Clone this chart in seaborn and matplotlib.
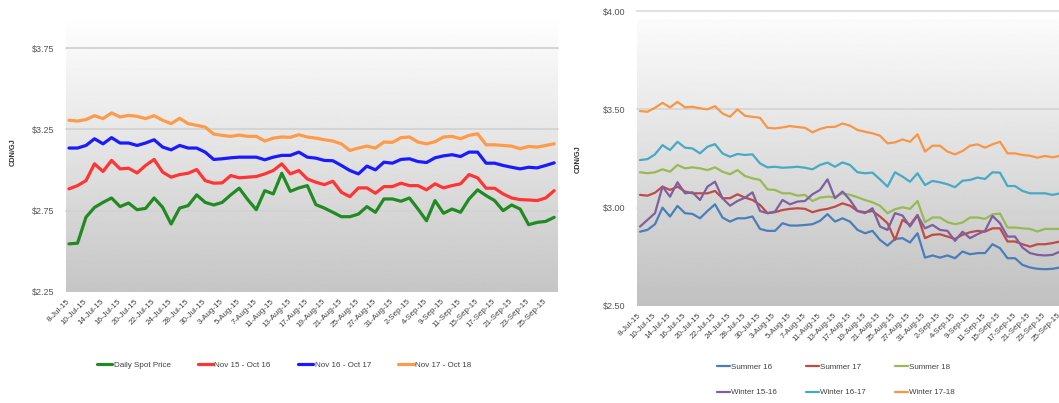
import numpy as np
import pandas as pd
import matplotlib
matplotlib.use("Agg")
import matplotlib.pyplot as plt
from matplotlib.lines import Line2D
import seaborn as sns

# ---------------- data ----------------
dates = [
    "8-Jul-15", "9-Jul-15", "10-Jul-15", "13-Jul-15", "14-Jul-15", "15-Jul-15", "16-Jul-15",
    "17-Jul-15", "20-Jul-15", "21-Jul-15", "22-Jul-15", "23-Jul-15", "24-Jul-15", "27-Jul-15",
    "28-Jul-15", "29-Jul-15", "30-Jul-15", "31-Jul-15", "3-Aug-15", "4-Aug-15", "5-Aug-15",
    "6-Aug-15", "7-Aug-15", "10-Aug-15", "11-Aug-15", "12-Aug-15", "13-Aug-15", "14-Aug-15",
    "17-Aug-15", "18-Aug-15", "19-Aug-15", "20-Aug-15", "21-Aug-15", "24-Aug-15", "25-Aug-15",
    "26-Aug-15", "27-Aug-15", "28-Aug-15", "31-Aug-15", "1-Sep-15", "2-Sep-15", "3-Sep-15",
    "4-Sep-15", "8-Sep-15", "9-Sep-15", "10-Sep-15", "11-Sep-15", "14-Sep-15", "15-Sep-15",
    "16-Sep-15", "17-Sep-15", "18-Sep-15", "21-Sep-15", "22-Sep-15", "23-Sep-15", "24-Sep-15",
    "25-Sep-15", "28-Sep-15",
]

# left chart
daily_spot = [2.546, 2.55, 2.71, 2.77, 2.801, 2.828, 2.775, 2.797, 2.756, 2.764, 2.828, 2.771,
              2.668, 2.766, 2.781, 2.847, 2.801, 2.785, 2.801, 2.847, 2.888, 2.818, 2.756, 2.873,
              2.853, 2.98, 2.869, 2.89, 2.904,
              2.787, 2.766, 2.74, 2.713, 2.713, 2.729, 2.775, 2.74, 2.822, 2.822, 2.808, 2.828,
              2.76, 2.688, 2.812, 2.734, 2.76, 2.74, 2.822, 2.878, 2.843, 2.812, 2.75, 2.785,
              2.76, 2.664, 2.678, 2.684, 2.709]
nov15_oct16 = [2.884, 2.904, 2.935, 3.038, 2.991, 3.059, 3.007, 3.011, 2.982, 3.028, 3.065, 2.987,
               2.956, 2.972, 2.98, 3.003, 2.935, 2.919, 2.921, 2.966, 2.952, 2.956, 2.96, 2.976,
               2.997, 3.038, 2.976, 2.997, 2.945,
               2.925, 2.91, 2.931, 2.863, 2.836, 2.89, 2.89, 2.857, 2.898, 2.898, 2.919, 2.904,
               2.904, 2.878, 2.915, 2.89, 2.904, 2.915, 2.972, 2.952, 2.888, 2.888, 2.853, 2.828,
               2.818, 2.816, 2.812, 2.828, 2.873]
nov16_oct17 = [3.135, 3.135, 3.151, 3.192, 3.161, 3.199, 3.166, 3.166, 3.151, 3.166, 3.186, 3.141,
               3.124, 3.151, 3.135, 3.135, 3.11, 3.065, 3.069, 3.075, 3.079, 3.079, 3.079, 3.063,
               3.079, 3.09, 3.09, 3.11, 3.079,
               3.073, 3.059, 3.057, 3.028, 2.997, 2.976, 3.024, 3.001, 3.048, 3.042, 3.065, 3.069,
               3.052, 3.046, 3.075, 3.087, 3.094, 3.083, 3.11, 3.11, 3.042, 3.042, 3.028, 3.017,
               3.007, 3.017, 3.013, 3.028, 3.044]
nov17_oct18 = [3.306, 3.301, 3.31, 3.334, 3.316, 3.351, 3.326, 3.336, 3.33, 3.316, 3.334, 3.306,
               3.285, 3.318, 3.285, 3.275, 3.264, 3.221, 3.213, 3.207, 3.215, 3.207, 3.207, 3.178,
               3.196, 3.203, 3.201, 3.217, 3.203,
               3.196, 3.186, 3.178, 3.161, 3.12, 3.135, 3.147, 3.135, 3.172, 3.17, 3.199, 3.203,
               3.172, 3.161, 3.174, 3.203, 3.207, 3.192, 3.213, 3.223, 3.155, 3.155, 3.151, 3.147,
               3.131, 3.145, 3.141, 3.151, 3.161]

# right chart
summer_16 = [2.878, 2.887, 2.916, 3.0, 2.955, 3.009, 2.972, 2.968, 2.946, 2.983, 3.017, 2.95,
             2.929, 2.946, 2.946, 2.955, 2.892, 2.882, 2.882, 2.921, 2.909, 2.909, 2.912, 2.916,
             2.933, 2.967, 2.929, 2.946,
             2.929, 2.887, 2.87, 2.882, 2.836, 2.807, 2.841, 2.845, 2.823, 2.87, 2.746, 2.757,
             2.746, 2.757, 2.743, 2.777, 2.763, 2.769, 2.769, 2.814, 2.794, 2.743, 2.743, 2.709,
             2.696, 2.689, 2.687, 2.689, 2.696, 2.70]
summer_17 = [3.065, 3.061, 3.076, 3.107, 3.09, 3.107, 3.082, 3.073, 3.073, 3.073, 3.085, 3.048,
             3.048, 3.068, 3.051, 3.039, 3.014, 2.972, 2.977, 2.988, 2.994, 2.997, 2.994, 2.977,
             2.988, 2.994, 3.005, 3.022,
             3.01, 2.983, 2.977, 2.983, 2.955, 2.921, 2.836, 2.938, 2.912, 2.963, 2.845, 2.862,
             2.865, 2.853, 2.841, 2.862, 2.875, 2.882, 2.878, 2.895, 2.895, 2.828, 2.828, 2.814,
             2.802, 2.814, 2.814, 2.82, 2.828, 2.83]
summer_18 = [3.18, 3.175, 3.18, 3.195, 3.183, 3.217, 3.2, 3.205, 3.2, 3.191, 3.205, 3.183,
             3.17, 3.191, 3.161, 3.149, 3.141, 3.093, 3.09, 3.073, 3.073, 3.061, 3.065, 3.034,
             3.051, 3.056, 3.053, 3.073,
             3.065, 3.053, 3.039, 3.027, 3.01, 2.972, 2.992, 3.002, 2.994, 3.034, 2.926, 2.95,
             2.95, 2.926, 2.916, 2.924, 2.95, 2.95, 2.943, 2.966, 2.97, 2.899, 2.899, 2.895,
             2.892, 2.879, 2.892, 2.892, 2.892, 2.89]
winter_15_16 = [2.904, 2.938, 2.972, 3.107, 3.056, 3.129, 3.073, 3.078, 3.039, 3.107, 3.132, 3.048,
                3.01, 3.034, 3.051, 3.078, 2.983, 2.972, 2.98, 3.039, 3.017, 3.031, 3.034, 3.068,
                3.09, 3.144, 3.048, 3.082,
                3.039, 2.983, 2.972, 2.997, 2.904, 2.887, 2.972, 2.96, 2.904, 2.96, 2.895, 2.912,
                2.887, 2.882, 2.831, 2.878, 2.845, 2.865, 2.882, 2.958, 2.921, 2.853, 2.853, 2.797,
                2.769, 2.76, 2.757, 2.76, 2.777, 2.78]
winter_16_17 = [3.242, 3.247, 3.271, 3.318, 3.293, 3.335, 3.305, 3.301, 3.276, 3.31, 3.323, 3.276,
                3.259, 3.273, 3.268, 3.271, 3.225, 3.205, 3.208, 3.203, 3.205, 3.208, 3.203, 3.195,
                3.217, 3.229, 3.208, 3.23,
                3.217, 3.18, 3.175, 3.178, 3.144, 3.107, 3.18, 3.158, 3.132, 3.175, 3.115, 3.136,
                3.129, 3.119, 3.104, 3.137, 3.141, 3.153, 3.146, 3.18, 3.178, 3.11, 3.11, 3.085,
                3.073, 3.073, 3.073, 3.065, 3.073, 3.075]
winter_17_18 = [3.491, 3.488, 3.508, 3.533, 3.51, 3.538, 3.51, 3.513, 3.505, 3.5, 3.516, 3.479,
                3.462, 3.5, 3.467, 3.462, 3.457, 3.406, 3.403, 3.408, 3.415, 3.41, 3.406, 3.383,
                3.4, 3.41, 3.411, 3.428,
                3.417, 3.395, 3.386, 3.378, 3.366, 3.327, 3.332, 3.347, 3.335, 3.373, 3.285, 3.315,
                3.315, 3.285, 3.271, 3.288, 3.315, 3.322, 3.305, 3.322, 3.335, 3.276, 3.276, 3.268,
                3.264, 3.254, 3.263, 3.256, 3.264, 3.27]

left_names = ["Daily Spot Price", "Nov 15 - Oct 16", "Nov 16 - Oct 17", "Nov 17 - Oct 18"]
left_series = [daily_spot, nov15_oct16, nov16_oct17, nov17_oct18]
left_colors = ["#228a22", "#ff3434", "#1a1aff", "#ff9a48"]

right_names = ["Summer 16", "Summer 17", "Summer 18", "Winter 15-16", "Winter 16-17", "Winter 17-18"]
right_series = [summer_16, summer_17, summer_18, winter_15_16, winter_16_17, winter_17_18]
right_colors = ["#4a7ebb", "#be4b48", "#98b954", "#7d60a0", "#46aac5", "#f79646"]

left_yticks = [2.25, 2.75, 3.25, 3.75]
right_yticks = [2.50, 3.00, 3.50, 4.00]


def long_frame(names, series):
    parts = []
    for n, s in zip(names, series):
        parts.append(pd.DataFrame({"x": np.arange(len(dates)), "v": s, "series": n}))
    return pd.concat(parts, ignore_index=True)


# ---------------- style ----------------
sns.set_style("white")
plt.rcParams["font.family"] = ["Liberation Sans", "DejaVu Sans"]

W, H = 1059, 403
fig = plt.figure(figsize=(W / 100, H / 100), dpi=100)
fig.patch.set_facecolor("white")


def px_axes(x0, x1, y_top, y_bot):
    return fig.add_axes([x0 / W, (H - y_bot) / H, (x1 - x0) / W, (y_bot - y_top) / H])


def gradient(ax, top=0.995, bottom=0.77, frac_top=1.0):
    g = np.linspace(top, bottom, 256).reshape(-1, 1)
    ax.imshow(g, extent=[0, 1, 0, frac_top], transform=ax.transAxes, aspect="auto",
              cmap="gray", vmin=0, vmax=1, zorder=0, interpolation="bilinear")


def style_axes(ax, yticks, xlim, ylim, grid_color="#d2d2d2"):
    ax.set_xlim(*xlim)
    ax.set_ylim(*ylim)
    for s in ax.spines.values():
        s.set_visible(False)
    for yv in yticks[1:]:
        ax.axhline(yv, color=grid_color, lw=1.3, zorder=1, clip_on=False)
    ax.set_yticks(yticks)
    ax.set_yticklabels([f"${v:.2f}" for v in yticks])
    tick_pos = list(range(0, len(dates) - 1, 2))
    ax.set_xticks(tick_pos)
    ax.set_xticklabels([dates[i] for i in tick_pos], rotation=45, ha="right",
                       va="center", rotation_mode="anchor")
    ax.tick_params(axis="y", length=0, pad=8, labelsize=6.5, labelcolor="#555555")
    ax.tick_params(axis="x", length=0, pad=6, labelsize=5.8, labelcolor="#404040")
    ax.set_xlabel("")
    ax.set_ylabel("")


# ---------------- left chart ----------------
axL = px_axes(66, 558, 20, 292)
gradient(axL, top=0.996, bottom=0.775)
dfL = long_frame(left_names, left_series)
sns.lineplot(data=dfL, x="x", y="v", hue="series", hue_order=left_names,
             palette=dict(zip(left_names, left_colors)), linewidth=2.3,
             legend=False, ax=axL, sort=False, estimator=None, zorder=3)
for ln in axL.get_lines():
    ln.set_solid_joinstyle("round")
    ln.set_solid_capstyle("round")
style_axes(axL, left_yticks, (-0.35, 57.45), (2.25, 3.75 + 28 / 162.5))
fig.text(13 / W, 1 - 152 / H, "CDN/GJ", rotation=90, fontsize=5.3, fontweight="bold",
         color="#333333", ha="center", va="center")

hL = [Line2D([], [], color=c, lw=2.3) for c in left_colors]
fig.legend(hL, left_names, loc="center left", bbox_to_anchor=(97 / W, (H - 365) / H),
           ncol=4, frameon=False, fontsize=5.8, handlelength=1.9, handletextpad=0.15,
           columnspacing=3.4, borderpad=0, borderaxespad=0, labelcolor="#404040")

# ---------------- right chart ----------------
axR = px_axes(637, 1070.5, 11, 306)
gradient(axR, top=0.985, bottom=0.755, frac_top=(306 - 20) / (306 - 11))
dfR = long_frame(right_names, right_series)
sns.lineplot(data=dfR, x="x", y="v", hue="series", hue_order=right_names,
             palette=dict(zip(right_names, right_colors)), linewidth=1.6,
             legend=False, ax=axR, sort=False, estimator=None, zorder=3)
for ln in axR.get_lines():
    ln.set_solid_joinstyle("round")
style_axes(axR, right_yticks, (-0.4, 57.4), (2.5, 4.0), grid_color="#d6d6d6")
axR.axhline(4.0, xmin=0, xmax=1, color="#e2e2e2", lw=1.5, zorder=1, clip_on=False)
fig.text(578 / W, 1 - 159 / H, "CDN/GJ", rotation=90, fontsize=5.3, fontweight="bold",
         color="#333333", ha="center", va="center")

order = [0, 3, 1, 4, 2, 5]
hR = [Line2D([], [], color=right_colors[i], lw=1.6) for i in order]
fig.legend(hR, [right_names[i] for i in order], loc="center left",
           bbox_to_anchor=(717 / W, (H - 380) / H), ncol=3, frameon=False, fontsize=5.8,
           handlelength=1.6, handletextpad=0.15, columnspacing=3.6, labelspacing=2.2,
           borderpad=0, borderaxespad=0, labelcolor="#404040")

fig.savefig("out.png", dpi=100)
